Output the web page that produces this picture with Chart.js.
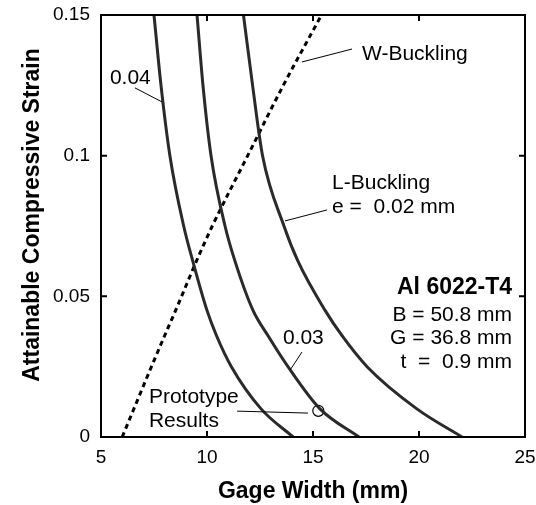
<!DOCTYPE html>
<html>
<head>
<meta charset="utf-8">
<script src="https://cdn.jsdelivr.net/npm/chart.js"></script>
<style>
  html, body { margin: 0; padding: 0; background: #fff; }
  #wrap { width: 536px; height: 505px; }
</style>
</head>
<body>
<div id="wrap"><canvas id="chart" width="536" height="505"></canvas></div>
<script>
// strain levels shared by the three L-buckling curves (top to bottom)
const strainLevels = [0.15, 0.125, 0.1, 0.075, 0.0625, 0.045, 0.036, 0.025, 0.01, 0];
const width004 = [7.5, 7.83, 8.25, 8.9, 9.33, 10.0, 10.45, 11.15, 12.55, 14.06];
const width003 = [9.53, 9.81, 10.19, 10.85, 11.32, 12.17, 12.88, 13.82, 15.33, 17.17];
const width002 = [11.72, 12.15, 12.62, 13.63, 14.29, 15.57, 16.37, 17.55, 19.9, 22.03];

// W-buckling limit (dashed)
const wWidth = [6.0, 6.55, 7.38, 8.0, 8.52, 9.5, 10.25, 11.92, 13.6, 15.33];
const wStrain = [0, 0.01, 0.025, 0.036, 0.045, 0.0625, 0.075, 0.1, 0.125, 0.149];

// prototype result
const protoWidth = [15.25];
const protoStrain = [0.0093];

const xTicks = [5, 10, 15, 20, 25];
const yTicks = [0, 0.05, 0.1, 0.15];

const FONT = "'Liberation Sans', Arial, Helvetica, sans-serif";

const pts = (xs, ys) => xs.map((x, i) => ({ x, y: ys[i] }));

// text notes and leader lines, placed in data units
const notes = [
  { t: '0.04', x: 5.42, y: 0.1276, a: 'left' },
  { t: 'W-Buckling', x: 17.31, y: 0.1362, a: 'left' },
  { t: 'L-Buckling', x: 15.9, y: 0.0903, a: 'left' },
  { t: 'e =  0.02 mm', x: 15.9, y: 0.0818, a: 'left' },
  { t: 'Al 6022-T4', x: 24.39, y: 0.053, a: 'right', bold: true },
  { t: 'B = 50.8 mm', x: 24.39, y: 0.0434, a: 'right' },
  { t: 'G = 36.8 mm', x: 24.39, y: 0.0352, a: 'right' },
  { t: 't  =  0.9 mm', x: 24.39, y: 0.0267, a: 'right' },
  { t: '0.03', x: 13.58, y: 0.0352, a: 'left' },
  { t: 'Prototype', x: 7.26, y: 0.0142, a: 'left' },
  { t: 'Results', x: 7.26, y: 0.0057, a: 'left' }
];
const leaders = [
  [6.6, 0.1241, 7.88, 0.1191],
  [14.48, 0.1333, 16.84, 0.1379],
  [13.68, 0.0768, 15.66, 0.0807],
  [14.48, 0.0302, 13.92, 0.0238],
  [11.42, 0.0092, 14.76, 0.0085]
];

const framePlugin = {
  id: 'frame',
  afterDatasetsDraw(chart) {
    const { ctx, chartArea: a, scales: { x, y } } = chart;
    ctx.save();
    ctx.strokeStyle = '#000';
    ctx.lineWidth = 2;
    ctx.strokeRect(a.left, a.top, a.right - a.left, a.bottom - a.top);
    // inward ticks on all four sides
    const tl = 6;
    ctx.beginPath();
    xTicks.slice(1, -1).forEach(v => {
      const px = x.getPixelForValue(v);
      ctx.moveTo(px, a.bottom); ctx.lineTo(px, a.bottom - tl);
      ctx.moveTo(px, a.top); ctx.lineTo(px, a.top + tl);
    });
    yTicks.slice(1, -1).forEach(v => {
      const py = y.getPixelForValue(v);
      ctx.moveTo(a.left, py); ctx.lineTo(a.left + tl, py);
      ctx.moveTo(a.right, py); ctx.lineTo(a.right - tl, py);
    });
    ctx.stroke();

    // leader lines
    ctx.lineWidth = 1;
    ctx.beginPath();
    leaders.forEach(([x1, y1, x2, y2]) => {
      ctx.moveTo(x.getPixelForValue(x1), y.getPixelForValue(y1));
      ctx.lineTo(x.getPixelForValue(x2), y.getPixelForValue(y2));
    });
    ctx.stroke();

    // notes
    ctx.fillStyle = '#000';
    ctx.textBaseline = 'middle';
    notes.forEach(n => {
      ctx.font = (n.bold ? 'bold 23px ' : '21px ') + FONT;
      ctx.textAlign = n.a;
      ctx.fillText(n.t, x.getPixelForValue(n.x), y.getPixelForValue(n.y));
    });

    // axis titles
    ctx.font = 'bold 23px ' + FONT;
    ctx.textAlign = 'center';
    ctx.fillText('Gage Width (mm)', (a.left + a.right) / 2, 492);
    ctx.translate(33, 215);
    ctx.rotate(-Math.PI / 2);
    ctx.fillText('Attainable Compressive Strain', 0, 0);
    ctx.restore();
  }
};

const curve = (data, label) => ({
  label, data,
  showLine: true,
  borderColor: '#2a2a2a',
  borderWidth: 3,
  pointRadius: 0,
  cubicInterpolationMode: 'monotone',
  fill: false
});

const noPad = s => { s.paddingLeft = 0; s.paddingRight = 0; s.paddingTop = 0; s.paddingBottom = 0; };

new Chart(document.getElementById('chart'), {
  type: 'scatter',
  data: {
    datasets: [
      curve(pts(width004, strainLevels), 'e = 0.04 mm'),
      curve(pts(width003, strainLevels), 'e = 0.03 mm'),
      curve(pts(width002, strainLevels), 'e = 0.02 mm'),
      {
        label: 'W-Buckling',
        data: pts(wWidth, wStrain),
        showLine: true,
        borderColor: '#000',
        borderWidth: 3,
        borderDash: [5, 4],
        pointRadius: 0,
        cubicInterpolationMode: 'monotone'
      },
      {
        label: 'Prototype Results',
        data: pts(protoWidth, protoStrain),
        pointRadius: 5.5,
        pointBackgroundColor: '#fff',
        pointBorderColor: '#000',
        pointBorderWidth: 1.2
      }
    ]
  },
  options: {
    responsive: false,
    devicePixelRatio: 1,
    animation: false,
    layout: { padding: { top: 15, right: 11, left: 0, bottom: 0 } },
    plugins: { legend: { display: false }, tooltip: { enabled: false } },
    scales: {
      x: {
        type: 'linear', min: 5, max: 25,
        afterBuildTicks: s => { s.ticks = xTicks.map(v => ({ value: v })); },
        afterFit: s => { s.height = 68; noPad(s); },
        grid: { display: false, drawTicks: false },
        border: { display: false },
        ticks: { color: '#000', padding: 9, font: { family: FONT, size: 19 }, maxRotation: 0, autoSkip: false }
      },
      y: {
        type: 'linear', min: 0, max: 0.15,
        afterBuildTicks: s => { s.ticks = yTicks.map(v => ({ value: v })); },
        afterFit: s => { s.width = 101; noPad(s); },
        grid: { display: false, drawTicks: false },
        border: { display: false },
        ticks: { color: '#000', padding: 11, font: { family: FONT, size: 19 }, autoSkip: false,
          callback: v => String(+v.toFixed(2)) }
      }
    }
  },
  plugins: [framePlugin]
});
</script>
</body>
</html>
